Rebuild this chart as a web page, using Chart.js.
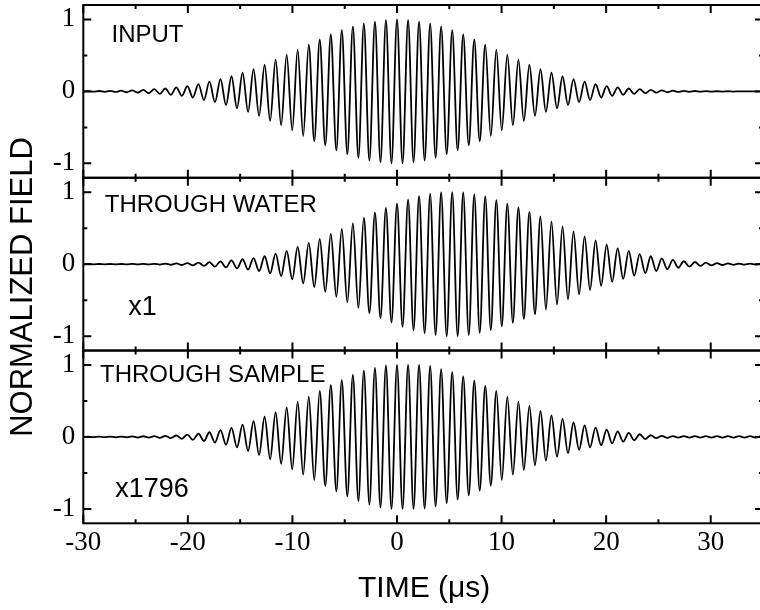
<!DOCTYPE html>
<html>
<head>
<meta charset="utf-8">
<script src="https://cdn.jsdelivr.net/npm/chart.js@4.4.0/dist/chart.umd.min.js"></script>
<style>
    html, body { margin: 0; padding: 0; background: #fff; overflow: hidden; }
    #wrap { width: 766px; height: 610px; }
</style>
</head>
<body>
<div id="wrap"><canvas id="pulseChart" width="766" height="610"></canvas></div>
<script>
// times (µs) of the successive crests and troughs
const peakTimes = [
    -30, -29.54, -29.01, -28.49, -27.96, -27.43, -26.90, -26.38, -25.85, -25.32, -24.79,
    -24.27, -23.74, -23.21, -22.68, -22.16, -21.63, -21.10, -20.57, -20.05, -19.52,
    -18.99, -18.46, -17.94, -17.41, -16.88, -16.35, -15.83, -15.30, -14.77, -14.24,
    -13.72, -13.19, -12.66, -12.13, -11.61, -11.08, -10.55, -10.02, -9.50, -8.97,
    -8.44, -7.91, -7.39, -6.86, -6.33, -5.80, -5.28, -4.75, -4.22, -3.69,
    -3.17, -2.64, -2.11, -1.58, -1.06, -0.53, 0, 0.53, 1.06, 1.58,
    2.11, 2.64, 3.17, 3.69, 4.22, 4.75, 5.28, 5.80, 6.33, 6.86,
    7.39, 7.91, 8.44, 8.97, 9.50, 10.02, 10.55, 11.08, 11.61, 12.13,
    12.66, 13.19, 13.72, 14.24, 14.77, 15.30, 15.83, 16.35, 16.88, 17.41,
    17.94, 18.46, 18.99, 19.52, 20.05, 20.57, 21.10, 21.63, 22.16, 22.68,
    23.21, 23.74, 24.27, 24.79, 25.32, 25.85, 26.38, 26.90, 27.43, 27.96,
    28.49, 29.01, 29.54, 30.07, 30.60, 31.12, 31.65, 32.18, 32.71, 33.23,
    33.76, 34.29, 34.82, 35,
];

const inputField = [
    0, 0.003, -0.004, 0.005, -0.006, 0.007, -0.008, 0.01, -0.012, 0.014, -0.017,
    0.02, -0.025, 0.03, -0.035, 0.04, -0.047, 0.055, -0.063, 0.072, -0.085,
    0.10, -0.12, 0.135, -0.15, 0.17, -0.19, 0.21, -0.235, 0.26, -0.285,
    0.31, -0.34, 0.37, -0.41, 0.44, -0.47, 0.51, -0.54, 0.58, -0.62,
    0.65, -0.69, 0.72, -0.75, 0.79, -0.82, 0.85, -0.87, 0.90, -0.92,
    0.94, -0.96, 0.97, -0.985, 0.99, -1.0, 1.0, -1.0, 0.99, -0.985,
    0.97, -0.96, 0.94, -0.92, 0.90, -0.87, 0.85, -0.82, 0.79, -0.75,
    0.72, -0.69, 0.65, -0.62, 0.58, -0.54, 0.51, -0.47, 0.44, -0.41,
    0.37, -0.34, 0.31, -0.285, 0.26, -0.235, 0.21, -0.19, 0.17, -0.15,
    0.135, -0.12, 0.10, -0.085, 0.072, -0.063, 0.055, -0.047, 0.04, -0.035,
    0.03, -0.025, 0.02, -0.017, 0.014, -0.012, 0.01, -0.008, 0.007, -0.006,
    0.005, -0.004, 0.003, -0.003, 0.002, -0.002, 0.002, -0.002, 0.001, -0.001,
    0.001, -0.001, 0.001, 0,
];

const waterField = [
    0, 0.002, -0.002, 0.002, -0.002, 0.002, -0.002, 0.002, -0.003, 0.003, -0.003,
    0.004, -0.004, 0.005, -0.006, 0.007, -0.008, 0.01, -0.012, 0.015, -0.017,
    0.02, -0.024, 0.028, -0.033, 0.038, -0.045, 0.053, -0.06, 0.068, -0.076,
    0.085, -0.097, 0.11, -0.127, 0.145, -0.165, 0.185, -0.21, 0.24, -0.265,
    0.295, -0.32, 0.35, -0.385, 0.42, -0.455, 0.49, -0.53, 0.57, -0.61,
    0.645, -0.68, 0.715, -0.75, 0.78, -0.81, 0.84, -0.87, 0.895, -0.92,
    0.945, -0.96, 0.975, -0.985, 0.995, -1.0, 1.0, -1.0, 0.995, -0.985,
    0.97, -0.955, 0.94, -0.915, 0.89, -0.865, 0.84, -0.815, 0.79, -0.76,
    0.725, -0.695, 0.665, -0.63, 0.595, -0.56, 0.525, -0.49, 0.455, -0.42,
    0.385, -0.36, 0.33, -0.30, 0.27, -0.245, 0.22, -0.205, 0.185, -0.16,
    0.14, -0.125, 0.11, -0.095, 0.08, -0.07, 0.06, -0.05, 0.04, -0.035,
    0.03, -0.025, 0.02, -0.017, 0.014, -0.012, 0.01, -0.009, 0.008, -0.007,
    0.006, -0.005, 0.005, 0,
];

const sampleField = [
    0, 0.003, -0.003, 0.003, -0.004, 0.004, -0.005, 0.005, -0.006, 0.007, -0.008,
    0.009, -0.01, 0.011, -0.013, 0.014, -0.016, 0.02, -0.026, 0.033, -0.04,
    0.047, -0.056, 0.065, -0.078, 0.094, -0.108, 0.125, -0.145, 0.17, -0.195,
    0.22, -0.25, 0.28, -0.31, 0.345, -0.375, 0.41, -0.45, 0.49, -0.525,
    0.56, -0.60, 0.64, -0.68, 0.72, -0.755, 0.79, -0.825, 0.86, -0.89,
    0.92, -0.94, 0.96, -0.98, 0.995, -1.0, 1.0, -1.0, 1.0, -1.0,
    1.0, -0.995, 0.985, -0.965, 0.94, -0.92, 0.90, -0.87, 0.84, -0.81,
    0.78, -0.745, 0.71, -0.675, 0.64, -0.60, 0.56, -0.525, 0.49, -0.46,
    0.43, -0.395, 0.36, -0.33, 0.30, -0.275, 0.25, -0.225, 0.20, -0.18,
    0.16, -0.145, 0.13, -0.115, 0.10, -0.09, 0.078, -0.066, 0.055, -0.046,
    0.037, -0.03, 0.023, -0.018, 0.014, -0.012, 0.011, -0.01, 0.01, -0.01,
    0.01, -0.01, 0.01, -0.01, 0.01, -0.01, 0.01, -0.01, 0.01, -0.01,
    0.01, -0.01, 0.01, 0,
];

const timeTicks = [-30, -20, -10, 0, 10, 20, 30];
const timeMinorTicks = [-25, -15, -5, 5, 15, 25, 35];
const fieldTicks = [-1, 0, 1];
const fieldMinorTicks = [-0.5, 0.5];

const panelNames = ["INPUT", "THROUGH WATER", "THROUGH SAMPLE"];
const gainNames = ["", "x1", "x1796"];

// top to bottom; the stacked axes are placed last-defined first
const panels = [
    { axis: "yInput", values: inputField, name: panelNames[0], gain: gainNames[0],
      nameAt: [-27.3, 0.68], gainAt: null },
    { axis: "yWater", values: waterField, name: panelNames[1], gain: gainNames[1],
      nameAt: [-27.95, 0.73], gainAt: [-25.7, -0.71] },
    { axis: "ySample", values: sampleField, name: panelNames[2], gain: gainNames[2],
      nameAt: [-28.4, 0.76], gainAt: [-26.95, -0.84] },
];

const serif = "'Liberation Serif', 'Times New Roman', serif";
const sans = "'Liberation Sans', Arial, Helvetica, sans-serif";
const tickFont = { family: serif, size: 27 };

function fieldAxis() {
    return {
        type: "linear",
        position: "left",
        stack: "panels",
        stackWeight: 1,
        min: -1.2,
        max: 1.2,
        grid: { display: false, drawTicks: false },
        border: { display: false },
        ticks: { font: tickFont, color: "#000", padding: 8 },
        afterBuildTicks: (scale) => {
            scale.ticks = fieldTicks.map((v) => ({ value: v }));
        },
        afterFit: (scale) => {
            scale.width = 83.3;
            scale.paddingTop = 0;
            scale.paddingBottom = 0;
        },
    };
}

const framePlugin = {
    id: "panelFrames",
    afterDraw(chart) {
        const { ctx, chartArea, scales } = chart;
        const x = scales.x;
        const left = chartArea.left;
        const right = chartArea.right;
        ctx.save();
        ctx.strokeStyle = "#000";
        ctx.fillStyle = "#000";

        panels.forEach((p) => {
            const y = scales[p.axis];
            ctx.lineWidth = 2;
            ctx.strokeRect(left, y.top, right - left, y.bottom - y.top);

            ctx.beginPath();
            const xTicks = (vals, len) => vals.forEach((v) => {
                const px = x.getPixelForValue(v);
                ctx.moveTo(px, y.top);
                ctx.lineTo(px, y.top + len);
                ctx.moveTo(px, y.bottom);
                ctx.lineTo(px, y.bottom - len);
            });
            const yTicks = (vals, len) => vals.forEach((v) => {
                const py = y.getPixelForValue(v);
                ctx.moveTo(left, py);
                ctx.lineTo(left + len, py);
                ctx.moveTo(right, py);
                ctx.lineTo(right - len, py);
            });
            xTicks(timeTicks, 8);
            xTicks(timeMinorTicks, 4);
            yTicks(fieldTicks, 8);
            yTicks(fieldMinorTicks, 4);
            ctx.stroke();

            ctx.textAlign = "left";
            ctx.textBaseline = "alphabetic";
            ctx.font = "24px " + sans;
            ctx.fillText(p.name,
                x.getPixelForValue(p.nameAt[0]), y.getPixelForValue(p.nameAt[1]));
            if (p.gainAt) {
                ctx.font = "27px " + sans;
                ctx.fillText(p.gain,
                    x.getPixelForValue(p.gainAt[0]), y.getPixelForValue(p.gainAt[1]));
            }
        });

        // axis titles
        ctx.font = "30px " + sans;
        ctx.textAlign = "center";
        ctx.textBaseline = "middle";
        ctx.fillText("TIME (\u03bcs)", (left + 763) / 2 + 1, 589);
        ctx.translate(23, 287);
        ctx.rotate(-Math.PI / 2);
        ctx.font = "31px " + sans;
        ctx.fillText("NORMALIZED FIELD", 0, 0);
        ctx.restore();
    },
};

const ctx = document.getElementById("pulseChart").getContext("2d");
const pulseChart = new Chart(ctx, {
    type: "line",
    data: {
        datasets: panels.map((p) => ({
            data: peakTimes.map((t, i) => ({ x: t, y: p.values[i] })),
            yAxisID: p.axis,
            borderColor: "#000",
            borderWidth: 1.8,
            pointRadius: 0,
            cubicInterpolationMode: "monotone",
            fill: false,
        })),
    },
    options: {
        responsive: false,
        animation: false,
        events: [],
        layout: { padding: { top: 5, left: 0, right: 3, bottom: 0 } },
        plugins: {
            legend: { display: false },
            tooltip: { enabled: false },
        },
        scales: {
            x: {
                type: "linear",
                position: "bottom",
                min: -30,
                max: 35,
                grid: { display: false, drawTicks: false },
                border: { display: false },
                ticks: { font: tickFont, color: "#000", padding: 3, maxRotation: 0 },
                afterBuildTicks: (scale) => {
                    scale.ticks = timeTicks.map((v) => ({ value: v }));
                },
                afterFit: (scale) => {
                    scale.height = 86.7;
                    scale.paddingLeft = 0;
                    scale.paddingRight = 0;
                },
            },
            ySample: fieldAxis(),
            yWater: fieldAxis(),
            yInput: fieldAxis(),
        },
    },
    plugins: [framePlugin],
});
</script>
</body>
</html>
